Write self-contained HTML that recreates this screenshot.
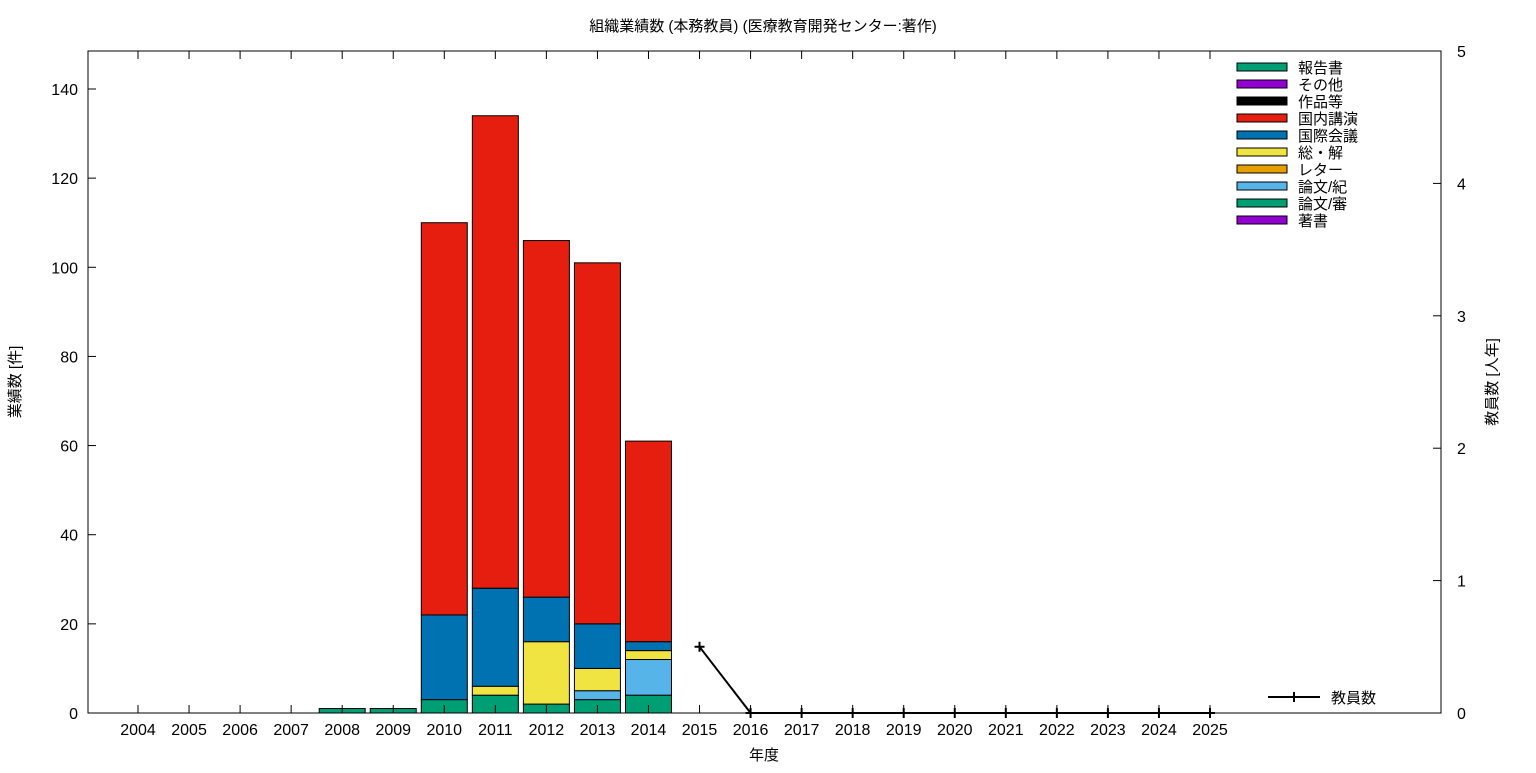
<!DOCTYPE html>
<html><head><meta charset="utf-8"><style>
body{margin:0;background:#fff}
svg text{font-family:"Liberation Sans","Noto Sans CJK JP",sans-serif;fill:#000}
</style></head><body>
<svg id="c" width="1536" height="768" xmlns="http://www.w3.org/2000/svg"></svg>
<script>
const years=["2004","2005","2006","2007","2008","2009","2010","2011","2012","2013","2014","2015","2016","2017","2018","2019","2020","2021","2022","2023","2024","2025"];
const seriesNames=["著書","論文/審","論文/紀","レター","総・解","国際会議","国内講演","作品等","その他","報告書"];
const seriesColors=["#9400d3","#009e73","#56b4e9","#e69f00","#f0e442","#0072b2","#e51e10","#000000","#9400d3","#009e73"];
const s_chosho=[0,0,0,0,0,0,0,0,0,0,0,0,0,0,0,0,0,0,0,0,0,0];
const s_shin=[0,0,0,0,1,1,3,4,2,3,4,0,0,0,0,0,0,0,0,0,0,0];
const s_kiyo=[0,0,0,0,0,0,0,0,0,2,8,0,0,0,0,0,0,0,0,0,0,0];
const s_letter=[0,0,0,0,0,0,0,0,0,0,0,0,0,0,0,0,0,0,0,0,0,0];
const s_soukai=[0,0,0,0,0,0,0,2,14,5,2,0,0,0,0,0,0,0,0,0,0,0];
const s_kokusai=[0,0,0,0,0,0,19,22,10,10,2,0,0,0,0,0,0,0,0,0,0,0];
const s_kokunai=[0,0,0,0,0,0,88,106,80,81,45,0,0,0,0,0,0,0,0,0,0,0];
const s_sakuhin=[0,0,0,0,0,0,0,0,0,0,0,0,0,0,0,0,0,0,0,0,0,0];
const s_sonota=[0,0,0,0,0,0,0,0,0,0,0,0,0,0,0,0,0,0,0,0,0,0];
const s_houkoku=[0,0,0,0,0,0,0,0,0,0,0,0,0,0,0,0,0,0,0,0,0,0];
const staffYears=["2015","2016","2017","2018","2019","2020","2021","2022","2023","2024","2025"];
const staffValues=[0.5,0,0,0,0,0,0,0,0,0,0];
const leftTicks=[0,20,40,60,80,100,120,140];
const rightTicks=[0,1,2,3,4,5];

const series=[s_chosho,s_shin,s_kiyo,s_letter,s_soukai,s_kokusai,s_kokunai,s_sakuhin,s_sonota,s_houkoku];
const svg=document.getElementById('c');const NS='http://www.w3.org/2000/svg';
function mk(t,a,txt){const e=document.createElementNS(NS,t);for(const k in a)e.setAttribute(k,a[k]);if(txt!=null)e.textContent=txt;svg.appendChild(e);return e;}
const L=88,R=1441,T=51,B=713;
const x0=138,dx=(1210-138)/21,bw=46;
const xs=i=>x0+i*dx;
const yL=v=>B-v*(624/140);
const yR=v=>B-v*(B-T)/5;

let e=mk('text',{x:763,y:31,'text-anchor':'middle','font-size':15},'組織業績数 (本務教員) (医療教育開発センター:著作)');


// bars
years.forEach((y,i)=>{let acc=0;series.forEach((s,k)=>{const v=s[i];if(v>0){const r=mk('rect',{x:xs(i)-bw/2,y:yL(acc+v),width:bw,height:yL(acc)-yL(acc+v),fill:seriesColors[k],stroke:'#000','stroke-width':1});
}acc+=v;});});

// frame
e=mk('rect',{x:L,y:T,width:R-L,height:B-T,fill:'none',stroke:'#000','stroke-width':1});

leftTicks.forEach(v=>{const y=yL(v);mk('line',{x1:L,x2:L+8,y1:y,y2:y,stroke:'#000'});
e=mk('text',{x:L-10,y:y+6,'text-anchor':'end','font-size':16},v);});
rightTicks.forEach(v=>{const y=yR(v);mk('line',{x1:R-8,x2:R,y1:y,y2:y,stroke:'#000'});
e=mk('text',{x:R+16,y:y+6,'font-size':16},v);});
years.forEach((y,i)=>{const x=xs(i);mk('line',{x1:x,x2:x,y1:B,y2:B-8,stroke:'#000'});mk('line',{x1:x,x2:x,y1:T,y2:T+8,stroke:'#000'});
e=mk('text',{x:x,y:735,'text-anchor':'middle','font-size':16},y);});

e=mk('text',{x:764,y:760,'text-anchor':'middle','font-size':15},'年度');
e=mk('text',{x:0,y:0,'text-anchor':'middle','font-size':15,transform:'translate(20,382) rotate(-90)'},'業績数 [件]');
e=mk('text',{x:0,y:0,'text-anchor':'middle','font-size':15,transform:'translate(1497,382) rotate(-90)'},'教員数 [人年]');

// line
const pts=staffYears.map((y,j)=>[xs(years.indexOf(y)),yR(staffValues[j])]);
e=mk('polyline',{points:pts.map(p=>p.join(',')).join(' '),fill:'none',stroke:'#000','stroke-width':2});

pts.forEach(p=>{e=mk('path',{d:`M${p[0]-5},${p[1]}h10M${p[0]},${p[1]-5}v10`,stroke:'#000','stroke-width':2});});

// legend
for(let k=series.length-1,r=0;k>=0;k--,r++){const y=67+r*17;
e=mk('rect',{x:1237,y:y-4,width:50,height:8,fill:seriesColors[k],stroke:'#000'});
e=mk('text',{x:1298,y:y+6,'font-size':15},seriesNames[k]);}
mk('line',{x1:1268,x2:1320,y1:697,y2:697,stroke:'#000','stroke-width':2});
mk('path',{d:'M1294,692v10',stroke:'#000','stroke-width':2});
e=mk('text',{x:1331,y:703,'font-size':15},'教員数');
</script>
</body></html>
